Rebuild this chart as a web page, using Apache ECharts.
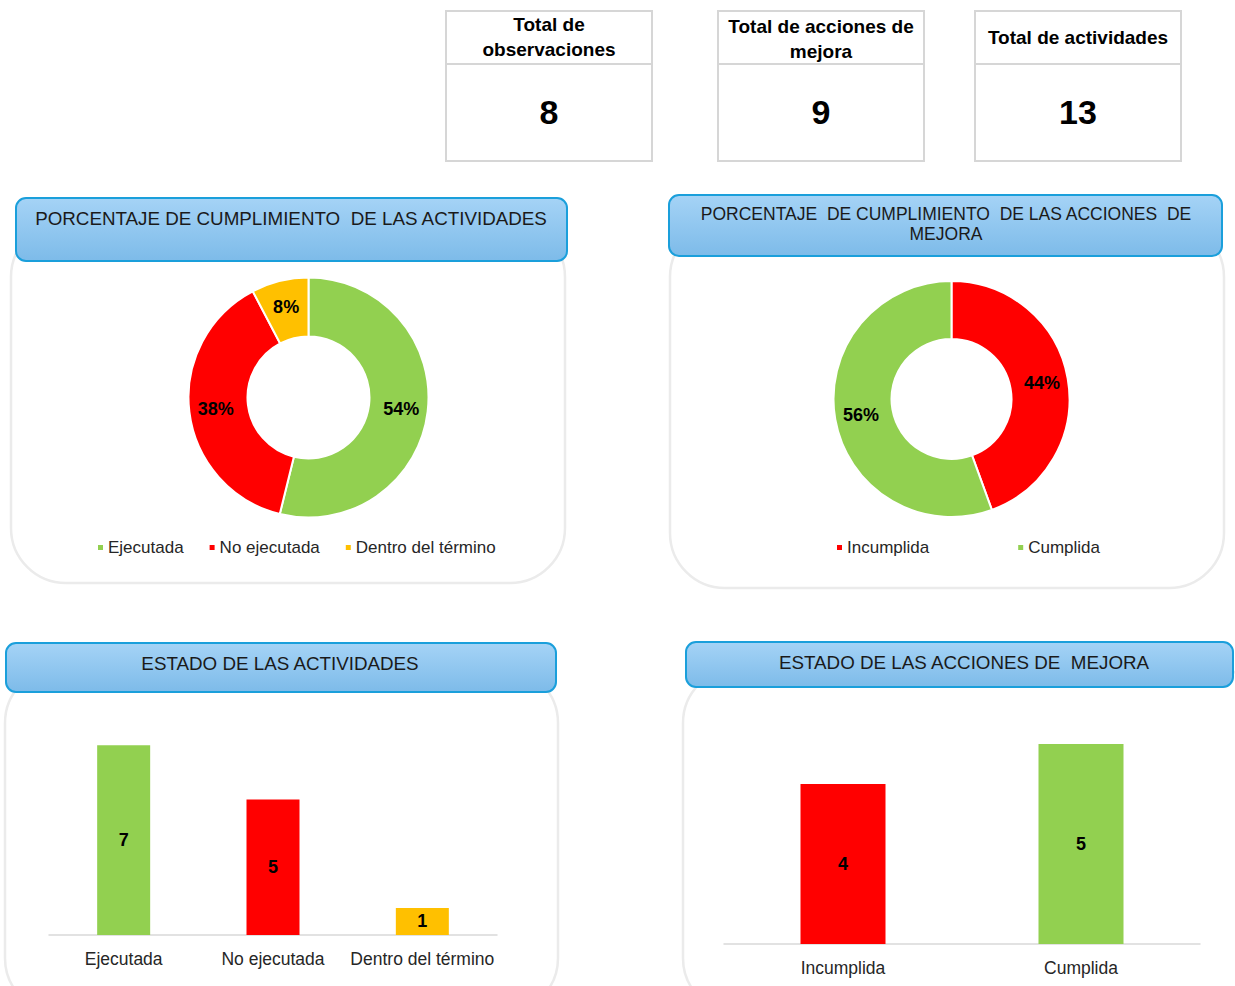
<!DOCTYPE html>
<html>
<head>
<meta charset="utf-8">
<script src="https://cdn.jsdelivr.net/npm/echarts@6/dist/echarts.min.js"></script>
<style>
html,body{margin:0;padding:0;background:#fff;}
#main{width:1235px;height:986px;}
</style>
</head>
<body>
<div id="main"></div>
<script>
// ---- data ----
const boxTitles = ['Total de\nobservaciones', 'Total de acciones de\nmejora', 'Total de actividades'];
const boxValues = [8, 9, 13];

const actCategories = ['Ejecutada', 'No ejecutada', 'Dentro del término'];
const actValues = [7, 5, 1];
const actColors = ['#92d050', '#ff0000', '#ffc000'];

const accCategories = ['Incumplida', 'Cumplida'];
const accValues = [4, 5];
const accColors = ['#ff0000', '#92d050'];

const panelTitles = [
  'PORCENTAJE DE CUMPLIMIENTO  DE LAS ACTIVIDADES',
  'PORCENTAJE  DE CUMPLIMIENTO  DE LAS ACCIONES  DE\nMEJORA',
  'ESTADO DE LAS ACTIVIDADES',
  'ESTADO DE LAS ACCIONES DE  MEJORA'
];

// ---- chart ----
const FONT = '"Liberation Sans", Arial, sans-serif';
const chart = echarts.init(document.getElementById('main'), null, {renderer: 'svg'});

const graphics = [];
// panels
const panels = [
  {x: 11, y: 222, w: 554, h: 361},
  {x: 670, y: 222, w: 554, h: 366},
  {x: 5, y: 668, w: 553, h: 345},
  {x: 683, y: 668, w: 585, h: 345}
];
panels.forEach(p => graphics.push({
  type: 'rect', z: 0, shape: {x: p.x, y: p.y, width: p.w, height: p.h, r: 55},
  style: {fill: '#fff', stroke: '#ebebeb', lineWidth: 2.5}
}));
// banners
const banners = [
  {x: 16, y: 198, w: 551, h: 63, tx: 291, ty: 218, fs: 18.8},
  {x: 669, y: 195, w: 553, h: 61, tx: 946, ty: 224, fs: 17.5},
  {x: 6, y: 643, w: 550, h: 49, tx: 280, ty: 663, fs: 18.8},
  {x: 686, y: 642, w: 547, h: 45, tx: 964, ty: 662, fs: 18.8}
];
banners.forEach((b, i) => {
  graphics.push({
    type: 'rect', z: 1, shape: {x: b.x, y: b.y, width: b.w, height: b.h, r: 10},
    style: {
      fill: {type: 'linear', x: 0, y: 0, x2: 0, y2: 1,
        colorStops: [{offset: 0, color: '#a5d3f6'}, {offset: 1, color: '#7dbbe9'}]},
      stroke: '#1a9fdb', lineWidth: 2
    }
  });
  graphics.push({
    type: 'text', z: 2, x: b.tx, y: b.ty,
    style: {text: panelTitles[i], font: b.fs + 'px ' + FONT, fill: '#1a1a1a',
      textAlign: 'center', textVerticalAlign: 'middle', lineHeight: 20}
  });
});
// top boxes
const boxX = [446, 718, 975];
const boxTitleY = [37, 39, 37];
boxX.forEach((x, i) => {
  graphics.push({
    type: 'rect', z: 1, shape: {x: x, y: 11, width: 206, height: 150},
    style: {fill: '#fff', stroke: '#d6d6d6', lineWidth: 2}
  });
  graphics.push({
    type: 'line', z: 2, shape: {x1: x, y1: 64, x2: x + 206, y2: 64},
    style: {stroke: '#d6d6d6', lineWidth: 2}
  });
  graphics.push({
    type: 'text', z: 3, x: x + 103, y: boxTitleY[i],
    style: {text: boxTitles[i], font: 'bold 19px ' + FONT, fill: '#000',
      textAlign: 'center', textVerticalAlign: 'middle', lineHeight: 25}
  });
  graphics.push({
    type: 'text', z: 3, x: x + 103, y: 112,
    style: {text: String(boxValues[i]), font: 'bold 34px ' + FONT, fill: '#000',
      textAlign: 'center', textVerticalAlign: 'middle'}
  });
});

const pieLabel = {
  show: true, position: 'inside', formatter: '{d}%',
  fontFamily: FONT, fontSize: 18, fontWeight: 'bold', color: '#000'
};
const barLabel = {
  show: true, position: 'inside',
  fontFamily: FONT, fontSize: 18, fontWeight: 'bold', color: '#000'
};
const axisLabelStyle = {fontFamily: FONT, fontSize: 17.5, color: '#262626', margin: 15, interval: 0, hideOverlap: false};

const option = {
  animation: false,
  backgroundColor: '#fff',
  textStyle: {fontFamily: FONT},
  graphic: {elements: graphics},
  legend: [
    {
      data: actCategories, left: 96, top: 539, padding: 0, icon: 'rect', itemWidth: 7, itemHeight: 7,
      itemGap: 24, textStyle: {fontFamily: FONT, fontSize: 17, color: '#262626', padding: [0, 0, 0, -1]},
      selectedMode: false
    },
    {
      data: accCategories, left: 835, top: 539, padding: 0, icon: 'rect', itemWidth: 7, itemHeight: 7,
      itemGap: 87, textStyle: {fontFamily: FONT, fontSize: 17, color: '#262626', padding: [0, 0, 0, -1]},
      selectedMode: false
    }
  ],
  grid: [
    {left: 49, top: 718, width: 448, height: 217},
    {left: 724, top: 704, width: 476, height: 240}
  ],
  xAxis: [
    {type: 'category', gridIndex: 0, data: actCategories,
      axisLine: {lineStyle: {color: '#d9d9d9', width: 1.5}}, axisTick: {show: false},
      axisLabel: axisLabelStyle},
    {type: 'category', gridIndex: 1, data: accCategories,
      axisLine: {lineStyle: {color: '#d9d9d9', width: 1.5}}, axisTick: {show: false},
      axisLabel: axisLabelStyle}
  ],
  yAxis: [
    {type: 'value', gridIndex: 0, min: 0, max: 8, interval: 1, show: false, splitLine: {show: false}},
    {type: 'value', gridIndex: 1, min: 0, max: 6, interval: 1, show: false, splitLine: {show: false}}
  ],
  series: [
    {
      type: 'pie', name: 'actividades', center: [308.5, 397.5], radius: [61, 120],
      startAngle: 90, clockwise: true, percentPrecision: 0,
      itemStyle: {borderColor: '#fff', borderWidth: 2},
      label: pieLabel, labelLine: {show: false}, emphasis: {disabled: true},
      data: actCategories.map((c, i) => ({name: c, value: actValues[i], itemStyle: {color: actColors[i]}}))
    },
    {
      type: 'pie', name: 'acciones', center: [951.5, 399], radius: [60, 118],
      startAngle: 90, clockwise: true, percentPrecision: 0,
      itemStyle: {borderColor: '#fff', borderWidth: 2},
      label: pieLabel, labelLine: {show: false}, emphasis: {disabled: true},
      data: accCategories.map((c, i) => ({name: c, value: accValues[i], itemStyle: {color: accColors[i]}}))
    },
    {
      type: 'bar', xAxisIndex: 0, yAxisIndex: 0, barWidth: 53,
      label: barLabel, emphasis: {disabled: true},
      data: actValues.map((v, i) => ({value: v, itemStyle: {color: actColors[i]}}))
    },
    {
      type: 'bar', xAxisIndex: 1, yAxisIndex: 1, barWidth: 85,
      label: barLabel, emphasis: {disabled: true},
      data: accValues.map((v, i) => ({value: v, itemStyle: {color: accColors[i]}}))
    }
  ]
};
chart.setOption(option);
</script>
</body>
</html>
